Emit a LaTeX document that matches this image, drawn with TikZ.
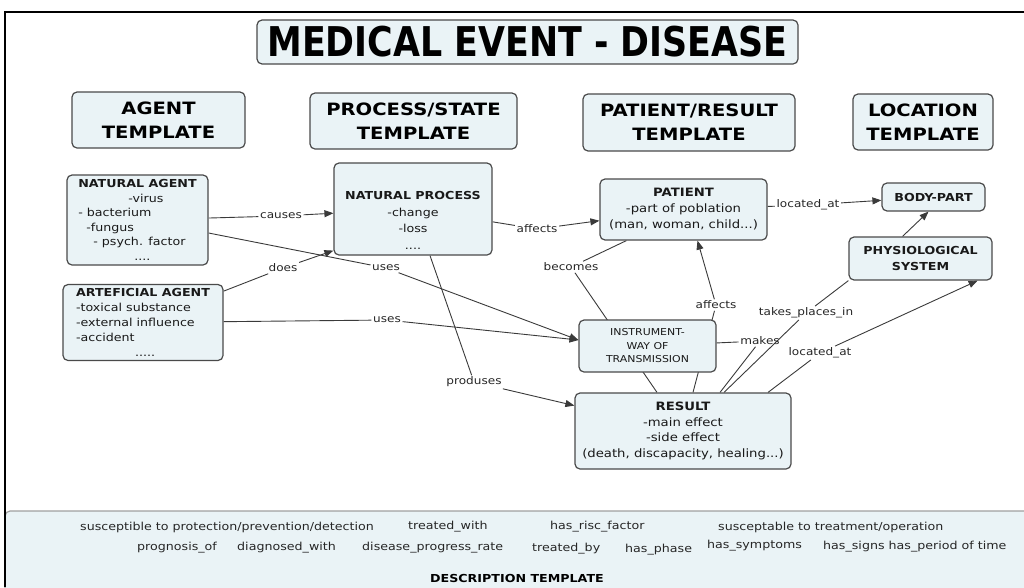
\documentclass[tikz,border=0pt]{standalone}
\usepackage{fontspec}
\setmainfont{DejaVu Sans}[FakeStretch=1.15]
\newfontfamily\titlefont{DejaVu Sans}[FakeStretch=0.85]
\usetikzlibrary{arrows.meta, backgrounds}
\definecolor{boxfill}{HTML}{EAF3F6}
\definecolor{boxline}{HTML}{4A4A4A}
\definecolor{linkgray}{HTML}{3A3A3A}

\begin{document}
\begin{tikzpicture}[x=1pt, y=-1pt,
  box/.style={draw=boxline, line width=1.2pt, fill=boxfill, rounded corners=5pt, align=center, inner sep=2pt},
  tmpl/.style={box, font=\fontsize{17}{24}\selectfont\bfseries},
  concept/.style={box, font=\fontsize{11}{15}\selectfont, text=black!90},
  lbl/.style={font=\fontsize{10.5}{12}\selectfont, text=black!85, inner sep=1.5pt},
  link/.style={draw=linkgray, line width=0.9pt},
  arr/.style={link, -{Triangle[length=9pt,width=7pt]}},
  descbox/.style={draw=gray!75, line width=1.2pt, fill=boxfill, rounded corners=5pt},
  desc/.style={font=\fontsize{11}{13}\selectfont, text=black!85, inner sep=0pt, anchor=west}
]
\useasboundingbox (0,0) rectangle (1024,587);

% Title
\node[box, minimum width=541pt, minimum height=44pt, font=\titlefont\fontsize{41}{41}\selectfont\bfseries] (title) at (527.5,42) {MEDICAL EVENT - DISEASE};

% Templates
\node[tmpl, minimum width=173pt, minimum height=56pt] (agentT) at (158.5,120) {AGENT\\TEMPLATE};
\node[tmpl, minimum width=207pt, minimum height=56pt] (procT) at (413.5,121) {PROCESS/STATE\\TEMPLATE};
\node[tmpl, minimum width=212pt, minimum height=57pt] (patT) at (689,122.5) {PATIENT/RESULT\\TEMPLATE};
\node[tmpl, minimum width=140pt, minimum height=56pt] (locT) at (923,122) {LOCATION\\TEMPLATE};

% Concepts
\node[concept, minimum width=141pt, minimum height=90pt, align=left, font=\fontsize{11}{14.5}\selectfont] (natAgent) at (137.5,220)
  {\textbf{NATURAL AGENT}\\\hspace*{50pt}-virus\\- bacterium\\\hspace*{8pt}-fungus\\\hspace*{15pt}- psych. factor\\\hspace*{56pt}....};
\node[concept, minimum width=160pt, minimum height=76pt, align=left] (artAgent) at (143,322.5)
  {\textbf{ARTEFICIAL AGENT}\\-toxical substance\\-external influence\\-accident\\\hspace*{59pt}.....};
\node[concept, minimum width=158pt, minimum height=92pt, font=\fontsize{11}{16.5}\selectfont] (natProc) at (413,209)
  {\rule{0pt}{31pt}\textbf{NATURAL PROCESS}\\-change\\-loss\\....};
\node[concept, minimum width=167pt, minimum height=61pt, font=\fontsize{11.5}{16}\selectfont] (patient) at (683.5,209.5)
  {\textbf{PATIENT}\\-part of poblation\\(man, woman, child...)};
\node[concept, minimum width=103pt, minimum height=28pt] (bodyPart) at (933.5,197) {\textbf{BODY-PART}};
\node[concept, minimum width=143pt, minimum height=43pt, font=\fontsize{11}{15.5}\selectfont] (physSys) at (920.5,258.5)
  {\textbf{PHYSIOLOGICAL}\\\textbf{SYSTEM}};
\node[concept, minimum width=137pt, minimum height=52pt, font=\fontsize{9.5}{13.5}\selectfont] (instr) at (647.5,346)
  {INSTRUMENT-\\WAY OF\\TRANSMISSION};
\node[concept, minimum width=216pt, minimum height=76pt, font=\fontsize{11.5}{15.7}\selectfont] (result) at (683,431)
  {\textbf{RESULT}\\-main effect\\-side effect\\(death, discapacity, healing...)};

% Link phrases
\node[lbl] (causes) at (281,216) {causes};
\node[lbl] (does) at (283,268) {does};
\node[lbl] (uses1) at (386,268) {uses};
\node[lbl] (uses2) at (387,320) {uses};
\node[lbl] (affects1) at (537,229) {affects};
\node[lbl] (produses) at (474,382) {produses};
\node[lbl] (becomes) at (571,267) {becomes};
\node[lbl] (affects2) at (716,305) {affects};
\node[lbl] (makes) at (760,341) {makes};
\node[lbl] (takes) at (806,313) {takes\_places\_in};
\node[lbl] (locAt1) at (808,205) {located\_at};
\node[lbl] (locAt2) at (820,353) {located\_at};

% Links
\begin{scope}[on background layer]
\draw[link] (natAgent) -- (causes);
\draw[arr] (causes) -- (natProc);
\draw[link] (artAgent) -- (does);
\draw[arr] (does) -- ([yshift=5pt]natProc.south west);
\draw[link] ([yshift=-13pt]natAgent.east) -- (uses1);
\draw[arr] (uses1) -- ([yshift=6pt]instr.west);
\draw[link] (artAgent) -- (uses2);
\draw[arr] (uses2) -- ([yshift=6pt]instr.west);
\draw[link] (natProc) -- (affects1);
\draw[arr] (affects1) -- (patient);
\draw[link] ([xshift=17pt]natProc.south) -- (produses);
\draw[arr] (produses) -- (result);
\draw[link] ([xshift=-26pt]result.north) -- (becomes);
\draw[link] (becomes) -- ([xshift=27pt]patient.south west);
\draw[link] ([xshift=10pt]result.north) -- (affects2);
\draw[arr] (affects2) -- ([xshift=14pt]patient.south);
\draw[link] (instr) -- (makes);
\draw[link] (makes) -- ([xshift=37pt]result.north);
\draw[link] ([xshift=41pt]result.north) -- (takes);
\draw[link] (takes) -- (physSys.south west);
\draw[link] ([xshift=85pt]result.north) -- (locAt2);
\draw[arr] (locAt2) -- ([xshift=-15pt]physSys.south east);
\draw[link] (patient) -- (locAt1);
\draw[arr] (locAt1) -- (bodyPart);
\draw[arr] ([xshift=-18pt]physSys.north) -- ([xshift=-5pt]bodyPart.south);
\end{scope}

% Description
\node[descbox, minimum width=1035pt, minimum height=99pt] (descr) at (522.5,560.5) {};
\node[desc] (d1) at (80,527) {susceptible to protection/prevention/detection};
\node[desc] (d2) at (408,527) {treated\_with};
\node[desc] (d3) at (550,527) {has\_risc\_factor};
\node[desc] (d4) at (718,527) {susceptable to treatment/operation};
\node[desc] (d5) at (137,548) {prognosis\_of};
\node[desc] (d6) at (237,548) {diagnosed\_with};
\node[desc] (d7) at (362,548) {disease\_progress\_rate};
\node[desc] (d8) at (532,549) {treated\_by};
\node[desc] (d9) at (625,550) {has\_phase};
\node[desc] (d10) at (707,546) {has\_symptoms};
\node[desc] (d11) at (823,547) {has\_signs has\_period of time};
\node[font=\fontsize{11}{13}\selectfont\bfseries] (dtitle) at (517,578) {DESCRIPTION TEMPLATE};

% Frame
\draw[line width=2pt] (5,587) -- (5,12) -- (1024,12);
\end{tikzpicture}
\end{document}
